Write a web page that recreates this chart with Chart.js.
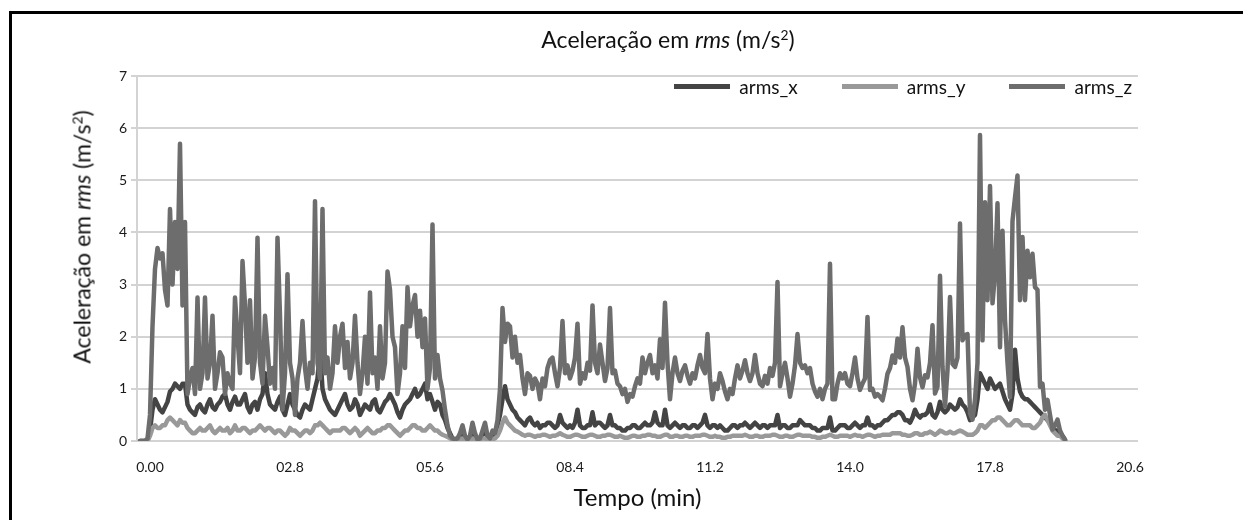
<!DOCTYPE html>
<html lang="pt">
<head>
  <meta charset="UTF-8" />
  <title>Aceleração em rms (m/s²)</title>
  <script src="https://cdn.jsdelivr.net/npm/chart.js"></script>
  <style>
    body { margin: 0; background: #fff; }
    #quadro {
      position: relative; width: 1243px; height: 520px; overflow: hidden;
      font-family: Lato, "Open Sans", sans-serif; color: #111;
    }
    #moldura {
      position: absolute; left: 9px; top: 11px; right: -10px; bottom: -10px;
      border-left: 3px solid #000; border-top: 3px solid #000;
    }
    #grafico { position: absolute; left: 0; top: 0; }
    #titulo {
      position: absolute; left: 668px; top: 28px; font-size: 23px; line-height: 1;
      white-space: nowrap; transform: translateX(-50%);
    }
    #tituloY {
      position: absolute; left: 82px; top: 237px; font-size: 23px; line-height: 1;
      white-space: nowrap; transform: translate(-50%, -50%) rotate(-90deg);
    }
    sup { font-size: 0.6em; vertical-align: 0.6em; line-height: 0; }
    #legenda {
      position: absolute; right: 111px; top: 77px; display: flex; gap: 44px;
      font-size: 19px; line-height: 1;
    }
    .item { display: flex; align-items: center; gap: 9px; }
    .traco { width: 56px; height: 5px; display: inline-block; }
  </style>
</head>
<body>
  <div id="quadro">
    <div id="moldura"></div>
    <canvas id="grafico" width="1243" height="520"></canvas>
    <div id="titulo">Aceleração em <i>rms</i> (m/s<sup>2</sup>)</div>
    <div id="tituloY">Aceleração em <i>rms</i> (m/s<sup>2</sup>)</div>
    <div id="legenda"></div>
  </div>

  <script>
    // amostras a cada 0,05 min, a partir de -0,2 min (cada linha = 1 min)
    const tempoInicio = -0.2;
    const passo = 0.05;

    const armsX = [
      0, 0, 0, 0, 0.2, 0.6, 0.8, 0.7, 0.6, 0.55, 0.65, 0.75, 0.95, 1.0, 1.1, 1.05, 1.0, 1.1, 1.1, 0.7,
      0.6, 0.55, 0.5, 0.65, 0.7, 0.6, 0.55, 0.7, 0.8, 0.65, 0.6, 0.7, 0.75, 0.85, 0.9, 0.7, 0.6, 0.75, 0.85, 0.7,
      0.7, 0.8, 0.9, 0.65, 0.55, 0.7, 0.75, 0.6, 0.8, 0.9, 1.3, 0.9, 0.7, 0.65, 0.6, 0.75, 0.85, 0.6, 0.5, 0.7,
      0.9, 0.7, 0.6, 0.5, 0.45, 0.6, 0.7, 0.65, 0.6, 0.8, 1.0, 1.2, 1.75, 1.0, 0.8, 0.7, 0.6, 0.55, 0.5, 0.6,
      0.7, 0.8, 0.9, 0.7, 0.6, 0.65, 0.8, 0.7, 0.5, 0.6, 0.7, 0.65, 0.6, 0.75, 0.8, 0.6, 0.55, 0.65, 0.75, 0.8,
      0.9, 0.8, 0.7, 0.55, 0.45, 0.6, 0.7, 0.75, 0.8, 0.9, 1.0, 0.85, 0.9, 1.0, 1.1, 0.8, 0.9, 0.75, 0.6, 0.75,
      0.7, 0.5, 0.4, 0.25, 0.15, 0.05, 0.03, 0.05, 0.1, 0.15, 0.05, 0.03, 0.05, 0.2, 0.08, 0.03, 0.05, 0.12, 0.2, 0.08,
      0.05, 0.1, 0.15, 0.3, 0.5, 0.8, 1.05, 0.8, 0.7, 0.6, 0.55, 0.45, 0.4, 0.35, 0.3, 0.4, 0.45, 0.35, 0.3, 0.35,
      0.25, 0.3, 0.3, 0.35, 0.35, 0.3, 0.25, 0.3, 0.5, 0.35, 0.3, 0.25, 0.3, 0.25, 0.35, 0.6, 0.3, 0.25, 0.25, 0.3,
      0.3, 0.55, 0.3, 0.35, 0.35, 0.3, 0.25, 0.3, 0.5, 0.3, 0.3, 0.25, 0.25, 0.2, 0.2, 0.25, 0.25, 0.3, 0.3, 0.25,
      0.25, 0.3, 0.35, 0.3, 0.3, 0.35, 0.55, 0.35, 0.3, 0.3, 0.6, 0.3, 0.25, 0.3, 0.35, 0.3, 0.25, 0.3, 0.3, 0.25,
      0.25, 0.3, 0.3, 0.25, 0.3, 0.35, 0.5, 0.3, 0.25, 0.3, 0.3, 0.25, 0.3, 0.25, 0.2, 0.2, 0.25, 0.3, 0.3, 0.25,
      0.3, 0.3, 0.35, 0.3, 0.25, 0.3, 0.35, 0.3, 0.25, 0.3, 0.3, 0.25, 0.3, 0.3, 0.3, 0.5, 0.25, 0.3, 0.3, 0.25,
      0.25, 0.3, 0.3, 0.3, 0.4, 0.35, 0.3, 0.3, 0.3, 0.25, 0.25, 0.2, 0.2, 0.25, 0.25, 0.25, 0.45, 0.2, 0.2, 0.25,
      0.3, 0.3, 0.3, 0.25, 0.25, 0.3, 0.35, 0.3, 0.25, 0.3, 0.3, 0.45, 0.3, 0.3, 0.25, 0.3, 0.3, 0.35, 0.4, 0.4,
      0.45, 0.5, 0.5, 0.55, 0.55, 0.5, 0.4, 0.4, 0.35, 0.45, 0.6, 0.5, 0.45, 0.5, 0.5, 0.55, 0.7, 0.5, 0.45, 0.55,
      0.75, 0.6, 0.55, 0.6, 0.7, 0.65, 0.6, 0.65, 0.8, 0.7, 0.65, 0.55, 0.4, 0.45, 0.5, 0.8, 1.3, 1.2, 1.1, 1.0,
      1.2, 1.1, 1.0, 1.05, 1.1, 0.95, 0.8, 0.7, 0.6, 0.9, 1.75, 1.2, 0.95, 0.85, 0.8, 0.8, 0.75, 0.7, 0.65, 0.6,
      0.55, 0.5, 0.45, 0.4, 0.35, 0.3, 0.2, 0.2, 0.15, 0.1, 0.02
    ];

    const armsY = [
      0, 0, 0, 0, 0.1, 0.25, 0.3, 0.25, 0.25, 0.3, 0.3, 0.4, 0.45, 0.4, 0.35, 0.3, 0.4, 0.35, 0.35, 0.25,
      0.2, 0.15, 0.15, 0.2, 0.25, 0.2, 0.2, 0.25, 0.3, 0.2, 0.15, 0.2, 0.25, 0.2, 0.2, 0.25, 0.15, 0.2, 0.3, 0.2,
      0.2, 0.25, 0.25, 0.2, 0.15, 0.2, 0.2, 0.25, 0.3, 0.25, 0.2, 0.25, 0.25, 0.2, 0.15, 0.2, 0.2, 0.15, 0.1, 0.15,
      0.25, 0.2, 0.2, 0.15, 0.1, 0.15, 0.2, 0.2, 0.15, 0.2, 0.3, 0.3, 0.35, 0.3, 0.25, 0.2, 0.15, 0.2, 0.2, 0.2,
      0.2, 0.25, 0.25, 0.2, 0.15, 0.2, 0.25, 0.2, 0.1, 0.15, 0.2, 0.25, 0.2, 0.15, 0.15, 0.2, 0.2, 0.25, 0.25, 0.3,
      0.3, 0.25, 0.2, 0.15, 0.1, 0.15, 0.2, 0.2, 0.25, 0.3, 0.3, 0.25, 0.25, 0.2, 0.2, 0.25, 0.3, 0.25, 0.2, 0.2,
      0.15, 0.12, 0.1, 0.08, 0.05, 0.03, 0.02, 0.02, 0.03, 0.05, 0.03, 0.02, 0.02, 0.05, 0.03, 0.02, 0.02, 0.05, 0.05, 0.02,
      0.02, 0.03, 0.05, 0.1, 0.2, 0.35, 0.45, 0.35, 0.3, 0.25, 0.2, 0.18, 0.15, 0.12, 0.1, 0.12, 0.12, 0.1, 0.08, 0.1,
      0.1, 0.12, 0.12, 0.1, 0.08, 0.1, 0.1, 0.12, 0.15, 0.12, 0.1, 0.08, 0.08, 0.1, 0.12, 0.12, 0.1, 0.08, 0.08, 0.1,
      0.12, 0.12, 0.1, 0.08, 0.08, 0.1, 0.1, 0.12, 0.12, 0.1, 0.08, 0.08, 0.1, 0.08, 0.06, 0.06, 0.08, 0.1, 0.1, 0.08,
      0.08, 0.1, 0.1, 0.12, 0.12, 0.1, 0.1, 0.08, 0.08, 0.1, 0.12, 0.12, 0.08, 0.08, 0.1, 0.1, 0.08, 0.08, 0.1, 0.1,
      0.08, 0.08, 0.1, 0.1, 0.1, 0.12, 0.12, 0.1, 0.08, 0.08, 0.1, 0.08, 0.08, 0.06, 0.06, 0.08, 0.08, 0.1, 0.1, 0.1,
      0.1, 0.1, 0.12, 0.1, 0.08, 0.08, 0.1, 0.1, 0.08, 0.08, 0.1, 0.1, 0.1, 0.12, 0.12, 0.1, 0.08, 0.08, 0.1, 0.1,
      0.08, 0.08, 0.1, 0.12, 0.12, 0.1, 0.1, 0.1, 0.1, 0.08, 0.08, 0.06, 0.06, 0.08, 0.08, 0.1, 0.12, 0.1, 0.08, 0.08,
      0.1, 0.1, 0.1, 0.1, 0.08, 0.1, 0.12, 0.1, 0.1, 0.08, 0.1, 0.12, 0.12, 0.1, 0.08, 0.1, 0.1, 0.12, 0.12, 0.12,
      0.12, 0.15, 0.15, 0.15, 0.15, 0.12, 0.12, 0.1, 0.1, 0.12, 0.15, 0.15, 0.12, 0.12, 0.15, 0.15, 0.18, 0.15, 0.12, 0.15,
      0.2, 0.18, 0.15, 0.15, 0.18, 0.15, 0.15, 0.18, 0.2, 0.18, 0.15, 0.12, 0.12, 0.12, 0.15, 0.2, 0.3, 0.3, 0.25, 0.3,
      0.35, 0.4, 0.4, 0.45, 0.45, 0.4, 0.35, 0.3, 0.3, 0.35, 0.4, 0.4, 0.35, 0.3, 0.3, 0.3, 0.3, 0.25, 0.25, 0.3,
      0.35, 0.45, 0.5, 0.4, 0.3, 0.2, 0.15, 0.1, 0.1, 0.05, 0
    ];

    const armsZ = [
      0, 0, 0, 0.05, 0.5, 2.2, 3.3, 3.7, 3.5, 3.6, 2.9, 2.6, 4.45, 3.0, 4.2, 3.3, 5.7, 2.6, 4.2, 0.9,
      1.2, 1.4, 0.9, 2.75, 1.0, 1.3, 2.75, 1.2, 1.5, 2.4, 1.0, 1.3, 1.7, 1.6, 0.9, 1.3, 1.1, 1.0, 2.75, 2.0,
      1.3, 3.45, 2.6, 1.5, 2.7, 1.2, 1.6, 3.9, 1.5, 1.1, 2.4, 1.8, 1.1, 1.4, 1.0, 3.9, 2.4, 0.6, 1.3, 3.2,
      1.5, 1.2, 0.5, 1.2, 1.5, 2.3, 1.4, 1.0, 1.5, 1.3, 4.6, 1.5, 1.2, 4.45, 1.3, 1.6, 1.0, 1.3, 2.2, 1.5,
      2.0, 2.25, 1.4, 1.9, 1.2, 1.5, 2.4, 1.5, 0.9, 1.3, 2.0, 1.1, 2.85, 1.3, 1.6, 1.0, 2.2, 1.2, 1.5, 3.25,
      2.9, 2.0, 1.8, 0.9, 1.3, 2.2, 1.4, 2.95, 2.2, 2.6, 2.8, 2.0, 2.5, 1.8, 2.35, 1.0, 1.4, 4.15, 1.2, 1.65,
      1.2, 0.97, 0.6, 0.3, 0.1, 0.05, 0.03, 0.05, 0.15, 0.3, 0.1, 0.03, 0.1, 0.35, 0.15, 0.03, 0.05, 0.2, 0.35, 0.1,
      0.05, 0.2, 0.15, 0.4, 1.0, 2.55, 1.9, 2.25, 2.2, 1.6, 2.0, 1.5, 1.65, 1.2, 0.9, 1.3, 1.25, 1.0, 1.2, 1.1,
      0.8, 1.2, 1.05, 1.4, 1.55, 1.6, 1.3, 1.05, 1.4, 2.3, 1.3, 1.45, 1.2, 1.35, 1.6, 2.25, 1.1, 1.3, 1.2, 1.5,
      1.35, 2.6, 1.5, 1.3, 1.85, 1.5, 1.15, 1.4, 2.55, 1.3, 1.35, 1.1, 1.05, 0.9, 1.0, 0.75, 0.9, 0.85, 1.05, 1.2,
      1.1, 1.6, 1.3, 1.5, 1.65, 1.3, 1.45, 1.2, 1.95, 1.4, 2.65, 1.5, 0.8, 1.3, 1.6, 1.3, 1.15, 1.35, 1.45, 1.25,
      1.1, 1.3, 1.2, 1.45, 1.65, 1.4, 1.3, 2.05, 1.2, 0.8, 1.1, 1.0, 1.3, 1.15, 0.95, 0.8, 1.0, 0.9, 1.2, 1.45,
      1.2, 1.35, 1.55, 1.3, 1.15, 1.3, 1.65, 1.3, 1.1, 1.05, 1.25, 1.1, 1.4, 1.25, 1.5, 3.05, 1.05, 1.3, 1.5, 1.2,
      0.85, 1.1, 1.45, 2.05, 1.5, 1.4, 1.45, 1.3, 1.4, 1.1, 0.95, 0.85, 1.0, 0.8, 1.0, 1.1, 3.4, 0.8, 0.8, 1.1,
      1.3, 1.2, 1.3, 1.1, 1.05, 1.3, 1.6, 1.2, 0.98, 1.1, 1.2, 2.38, 0.98, 1.0, 0.85, 0.9, 0.85, 0.78, 1.0, 1.29,
      1.4, 1.64, 1.5, 1.96, 1.6, 2.18, 1.6, 1.42, 1.0, 0.78, 1.1, 1.77, 1.22, 1.03, 1.26, 1.22, 1.5, 2.22, 0.91, 1.04,
      3.17, 1.42, 0.66, 1.36, 2.76, 1.48, 1.42, 1.6, 4.17, 1.93, 2.03, 2.05, 0.53, 0.41, 0.79, 1.5, 5.87, 1.93, 4.58, 2.7,
      4.89, 2.64, 3.2, 4.56, 1.8, 4.03, 2.32, 1.5, 0.84, 4.22, 4.67, 5.09, 2.7, 3.91, 2.7, 3.65, 3.14, 3.59, 2.95, 2.9,
      1.04, 1.1, 0.6, 0.79, 0.5, 0.22, 0.3, 0.41, 0.2, 0.1, 0.03
    ];

    const posicoesTicks = [0, 2.8, 5.6, 8.4, 11.2, 14.0, 16.8, 19.6];
    const rotulosTicks = ['0.00', '02.8', '05.6', '08.4', '11.2', '14.0', '17.8', '20.6'];

    const series = [
      { nome: 'arms_x', valores: armsX, cor: '#444444', ordem: 2 },
      { nome: 'arms_y', valores: armsY, cor: '#999999', ordem: 1 },
      { nome: 'arms_z', valores: armsZ, cor: '#6d6d6d', ordem: 0 }
    ];

    const pontos = valores => valores.map((v, i) => ({
      x: Math.round((tempoInicio + i * passo) * 100) / 100,
      y: v
    }));

    const fonteTicks = { family: 'Lato', size: 14 };

    const grafico = new Chart(document.getElementById('grafico'), {
      type: 'line',
      data: {
        datasets: series.map(s => ({
          label: s.nome,
          data: pontos(s.valores),
          borderColor: s.cor,
          backgroundColor: s.cor,
          order: s.ordem
        }))
      },
      options: {
        responsive: false,
        animation: false,
        layout: { padding: { left: 0, right: 105, top: 76, bottom: 0 } },
        plugins: {
          legend: { display: false },
          tooltip: { enabled: false }
        },
        elements: {
          point: { radius: 0 },
          line: { borderWidth: 4.5, tension: 0, borderJoinStyle: 'round', borderCapStyle: 'round' }
        },
        scales: {
          x: {
            type: 'linear',
            min: -0.26,
            max: 19.76,
            afterBuildTicks: s => { s.ticks = posicoesTicks.map(v => ({ value: v })); },
            afterFit: s => { s.height = 79; },
            grid: { display: false, drawTicks: false },
            border: { display: false },
            ticks: {
              padding: 18, color: '#1a1a1a', font: fonteTicks,
              maxRotation: 0, autoSkip: false,
              callback: (v, i) => rotulosTicks[i]
            },
            title: {
              display: true, text: 'Tempo (min)', color: '#111',
              font: { family: 'Lato', size: 24 },
              padding: { top: 0, bottom: 7 }
            }
          },
          y: {
            min: 0,
            max: 7,
            afterFit: s => { s.width = 137; },
            ticks: { stepSize: 1, padding: 4, color: '#1a1a1a', font: fonteTicks },
            grid: { color: '#d3d3d3', lineWidth: 2, tickLength: 6 },
            border: { display: true, color: '#d3d3d3', width: 2 }
          }
        }
      }
    });

    // legenda dentro da área do gráfico, como no original
    const legenda = document.getElementById('legenda');
    grafico.data.datasets.forEach(ds => {
      const item = document.createElement('div');
      item.className = 'item';
      item.innerHTML = '<span class="traco" style="background:' + ds.borderColor + '"></span><span>' + ds.label + '</span>';
      legenda.appendChild(item);
    });
  </script>
</body>
</html>
